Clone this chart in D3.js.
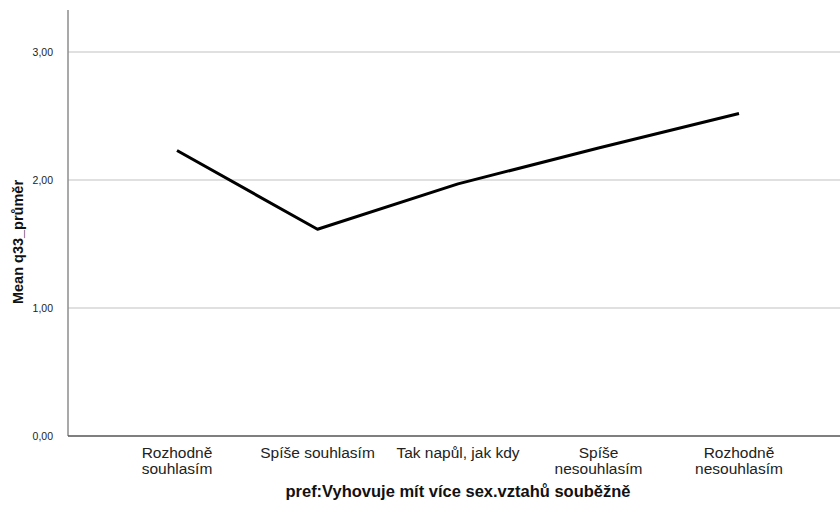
<!DOCTYPE html>
<html><head><meta charset="utf-8">
<script src="https://cdn.jsdelivr.net/npm/d3@7"></script>
<style>body{margin:0;background:#fff}svg{display:block}text{font-family:Arial,"Liberation Sans",sans-serif}</style>
</head><body>
<script>
const categories = [["Rozhodně","souhlasím"],["Spíše souhlasím"],["Tak napůl, jak kdy"],["Spíše","nesouhlasím"],["Rozhodně","nesouhlasím"]];
const means = [2.23, 1.615, 1.97, 2.25, 2.52];
const yTicks = [0, 1, 2, 3];
const yTitle = "Mean q33_průměr";
const xTitle = "pref:Vyhovuje mít více sex.vztahů souběžně";

const W = 840, H = 520;
const svg = d3.select("body").append("svg").attr("width", W).attr("height", H);
const x0 = 68, x1 = 840, y0 = 436, yTop = 10;
const x = d3.scalePoint().domain(d3.range(categories.length)).range([177, 739]);
const y = d3.scaleLinear().domain([0, 3]).range([y0, 52]);

// gridlines
svg.append("g").selectAll("line").data(yTicks.filter(d => d > 0)).join("line")
  .attr("x1", x0).attr("x2", x1).attr("y1", d => y(d)).attr("y2", d => y(d))
  .attr("stroke", "#d6d6d6").attr("stroke-width", 1.5);

// y axis
const yAxis = d3.axisLeft(y).tickValues(yTicks).tickSize(0).tickPadding(15)
  .tickFormat(d => d3.format(".2f")(d).replace(".", ","));
const gy = svg.append("g").attr("transform", `translate(${x0},0)`).call(yAxis);
gy.select(".domain").remove();
gy.selectAll("text").attr("font-size", 10.5).attr("fill", "#222").attr("font-family", "Arial, 'Liberation Sans', sans-serif");
svg.append("line").attr("x1", x0).attr("x2", x0).attr("y1", yTop).attr("y2", y0)
  .attr("stroke", "#8c8c8c").attr("stroke-width", 1.5);

// x axis
svg.append("line").attr("x1", x0).attr("x2", x1).attr("y1", y0).attr("y2", y0)
  .attr("stroke", "#555").attr("stroke-width", 1.3);
const xl = svg.append("g").selectAll("text").data(categories).join("text")
  .attr("text-anchor", "middle").attr("font-size", 15.5).attr("fill", "#222")
  .attr("transform", (d, i) => `translate(${x(i)},0)`);
xl.selectAll("tspan").data(d => d).join("tspan")
  .attr("x", 0).attr("y", (d, i) => 458 + i * 16).text(d => d);

// line
svg.append("path").datum(means)
  .attr("d", d3.line().x((d, i) => x(i)).y(d => y(d)))
  .attr("fill", "none").attr("stroke", "#000").attr("stroke-width", 3).attr("stroke-linejoin", "round");

// titles
svg.append("text").attr("transform", `translate(23,242) rotate(-90)`)
  .attr("text-anchor", "middle").attr("font-size", 14.5).attr("font-weight", "bold").attr("fill", "#111").text(yTitle);
svg.append("text").attr("x", 458).attr("y", 497)
  .attr("text-anchor", "middle").attr("font-size", 16.5).attr("font-weight", "bold").attr("fill", "#111").text(xTitle);
</script>
</body></html>
